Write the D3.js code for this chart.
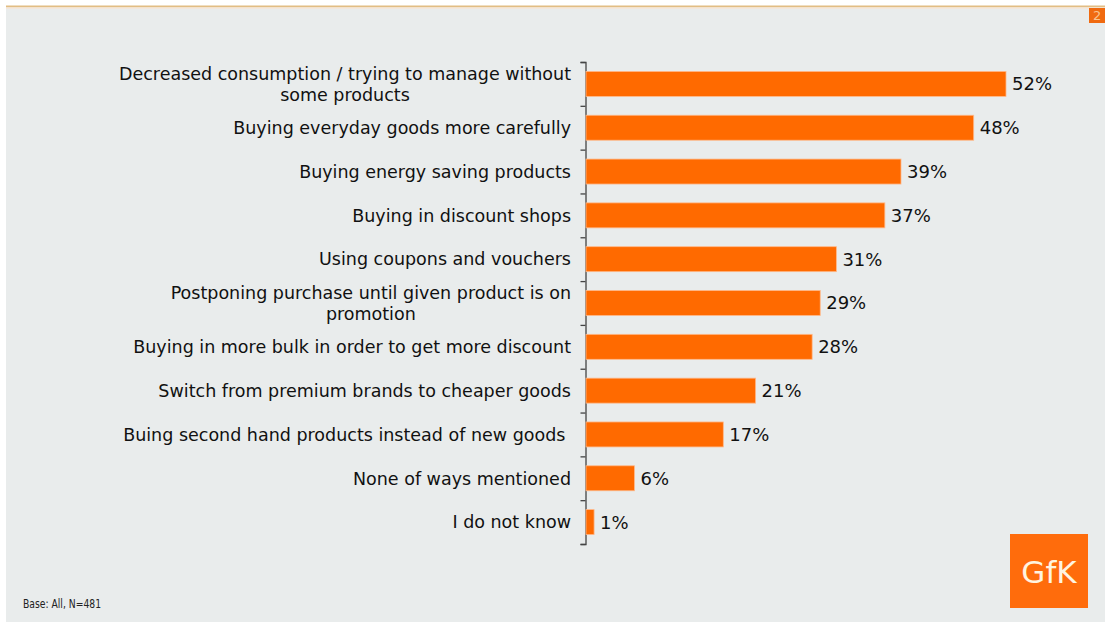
<!DOCTYPE html>
<html>
<head>
<meta charset="utf-8">
<script src="https://cdn.jsdelivr.net/npm/d3@7"></script>
<style>
  html, body { margin: 0; padding: 0; background: #ffffff; }
  svg { display: block; }
  text { font-family: "DejaVu Sans", Verdana, sans-serif; }
</style>
</head>
<body>
<svg id="chart" width="1105" height="625"></svg>
<script>
// Ways of coping with the crisis (share of respondents)
const categories = [
  ["Decreased consumption / trying to manage without", "some products"],
  ["Buying everyday goods more carefully"],
  ["Buying energy saving products"],
  ["Buying in discount shops"],
  ["Using coupons and vouchers"],
  ["Postponing purchase until given product is on", "promotion"],
  ["Buying in more bulk in order to get more discount"],
  ["Switch from premium brands to cheaper goods"],
  ["Buing second hand products instead of new goods "],
  ["None of ways mentioned"],
  ["I do not know"]
];
const values = [52, 48, 39, 37, 31, 29, 28, 21, 17, 6, 1];
const valueLabels = ["52%", "48%", "39%", "37%", "31%", "29%", "28%", "21%", "17%", "6%", "1%"];
const footnote = "Base: All, N=481";
const logoText = "GfK";
const pageNumber = "2";

const svg = d3.select("#chart");
const W = 1105, H = 625;
const orange = "#ff6a00";

// slide background
svg.append("rect").attr("x", 6).attr("y", 8).attr("width", W - 6).attr("height", H - 11)
  .attr("fill", "#e9ecec");
svg.append("rect").attr("x", 6).attr("y", 5.5).attr("width", W - 6).attr("height", 2)
  .attr("fill", "#e2bd84");
svg.append("rect").attr("x", 6).attr("y", 7.5).attr("width", W - 6).attr("height", 1.5)
  .attr("fill", "#f4e7dc");

// page number tab
svg.append("rect").attr("x", 1089).attr("y", 8).attr("width", 16).attr("height", 15)
  .attr("fill", "#f06a10");
svg.append("text").attr("x", 1093).attr("y", 20).attr("font-size", 13)
  .attr("fill", "#f9c48f").text(pageNumber);

// scales
const ids = categories.map((d, i) => i);
const y = d3.scaleBand().domain(ids).range([62, 544])
  .paddingInner(0.43).paddingOuter(0.215);
const x = d3.scaleLinear().domain([0, 52]).range([586, 1006]);

// category axis: ticks sit on the band boundaries
const edges = d3.scaleLinear().domain([0, categories.length]).range([62, 544]);
const axis = d3.axisLeft(edges)
  .tickValues(d3.range(0, categories.length + 1))
  .tickSize(5).tickSizeOuter(5).tickFormat("");
svg.append("g").attr("transform", "translate(585.5,0)").call(axis)
  .call(g => g.selectAll("path, line").attr("stroke", "#444").attr("stroke-width", 1.3));

// bars
svg.append("g").selectAll("rect").data(values).join("rect")
  .attr("x", x(0))
  .attr("y", (d, i) => y(i))
  .attr("width", d => x(d) - x(0))
  .attr("height", y.bandwidth())
  .attr("fill", orange)
  .attr("stroke", "#ffb98a").attr("stroke-width", 0.8);

// value labels
svg.append("g").selectAll("text").data(values).join("text")
  .attr("x", d => x(d) + 6)
  .attr("y", (d, i) => y(i) + y.bandwidth() / 2)
  .attr("dy", "0.36em")
  .attr("font-size", 18)
  .attr("fill", "#111")
  .text((d, i) => valueLabels[i]);

// category labels, right aligned block; wrapped lines centred on the first line
const lineH = 21;
const labelSize = 17.5;
const labelG = svg.append("g");
categories.forEach((lines, i) => {
  const cy = y(i) + y.bandwidth() / 2;
  const top = cy - (lines.length - 1) * lineH / 2;
  const t0 = labelG.append("text")
    .attr("x", 571).attr("y", top).attr("dy", "0.36em")
    .attr("text-anchor", "end").attr("font-size", labelSize)
    .attr("fill", "#111").style("white-space", "pre")
    .text(lines[0]);
  if (lines.length > 1) {
    const w = t0.node().getComputedTextLength();
    lines.slice(1).forEach((ln, k) => {
      labelG.append("text")
        .attr("x", 571 - w / 2).attr("y", top + (k + 1) * lineH).attr("dy", "0.36em")
        .attr("text-anchor", "middle").attr("font-size", labelSize)
        .attr("fill", "#111").text(ln);
    });
  }
});

// footnote (narrow face)
svg.append("text").attr("x", 23).attr("y", 608)
  .attr("font-family", "'DejaVu Sans Condensed', 'DejaVu Sans', sans-serif")
  .attr("font-size", 11.5).attr("fill", "#222")
  .attr("textLength", 78).attr("lengthAdjust", "spacingAndGlyphs")
  .text(footnote);

// logo
svg.append("rect").attr("x", 1010).attr("y", 534).attr("width", 78).attr("height", 74)
  .attr("fill", "#ff6c0c");
svg.append("text").attr("x", 1049).attr("y", 583).attr("text-anchor", "middle")
  .attr("font-family", "'Open Sans', 'DejaVu Sans', sans-serif")
  .attr("font-size", 31).attr("fill", "#fff4e0").text(logoText);
</script>
</body>
</html>
